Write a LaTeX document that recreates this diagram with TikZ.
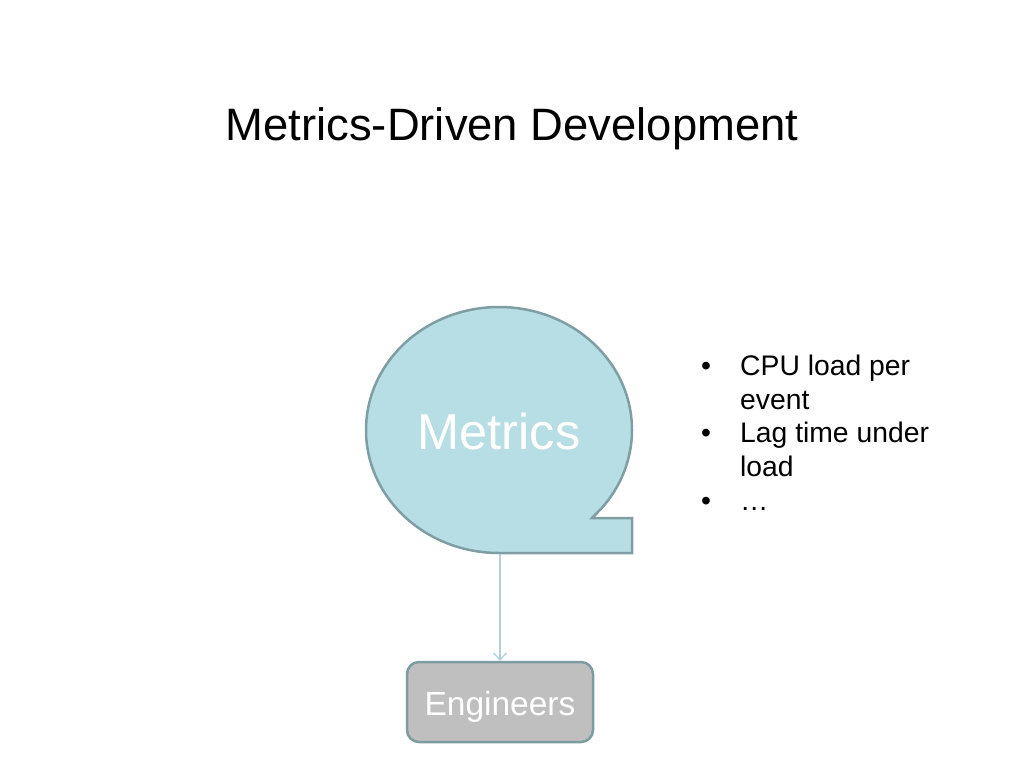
\documentclass[tikz,border=0pt]{standalone}
\usepackage{fontspec}
\setmainfont{Liberation Sans}
\usetikzlibrary{arrows.meta}
\definecolor{mfill}{RGB}{183,222,228}
\definecolor{mborder}{RGB}{126,158,163}
\definecolor{efill}{RGB}{191,191,191}
\definecolor{eborder}{RGB}{124,156,160}
\definecolor{arrowc}{RGB}{176,208,224}
\newcommand{\twolines}[2]{\begin{tabular}[t]{@{}l@{}}#1\\#2\end{tabular}}
\tikzset{
  titletext/.style={anchor=base, inner sep=0pt, font=\fontsize{45.4}{54}\selectfont},
  bubble/.style={fill=mfill, draw=mborder, line width=2.5pt, line join=miter},
  engbox/.style={fill=efill, draw=eborder, line width=2.5pt, rounded corners=12pt, minimum width=186pt, minimum height=80pt, inner sep=0pt, text=white, font=\fontsize{33.5}{40}\selectfont},
  bigtext/.style={anchor=base, inner sep=0pt, text=white, font=\fontsize{50.5}{60}\selectfont},
  bullettext/.style={anchor=base west, inner sep=0pt, font=\fontsize{28.3}{34}\selectfont},
  bulletdot/.style={anchor=base, inner sep=0pt, font=\fontsize{28.3}{34}\selectfont},
  flow/.style={draw=arrowc, line width=1.2pt, -{Straight Barb[length=7pt,width=13pt]}}
}
\begin{document}
\begin{tikzpicture}[x=1pt,y=-1pt]
\useasboundingbox (0,0) rectangle (1024,768);
\node[titletext] (title) at (512,140) {Metrics-Driven Development};
% bubble shape
\draw[bubble] (499,553) arc[start angle=90, end angle=400, x radius=133, y radius=123]
  -- (592,518) -- (632,518) -- (632,553) -- cycle;
\node[bigtext] (metrics) at (499,449) {Metrics};
\coordinate (mbot) at (500,554);
\node[engbox] (eng) at (500,702) {\raisebox{-13pt}[0pt][0pt]{Engineers}};
\draw[flow] (mbot) -- (eng.north);
% bullets
\node[bulletdot] (b1) at (706,375) {•};
\node[bullettext] (t1) at (740,375) {\twolines{CPU load per}{event}};
\node[bulletdot] (b2) at (706,442) {•};
\node[bullettext] (t2) at (740,442) {\twolines{Lag time under}{load}};
\node[bulletdot] (b3) at (706,510) {•};
\node[bullettext] (t3) at (740,510) {…};
\end{tikzpicture}
\end{document}
